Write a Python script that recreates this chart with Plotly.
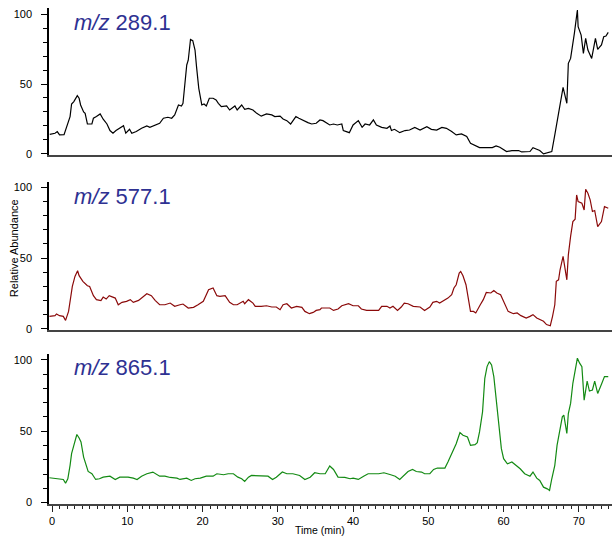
import plotly.graph_objects as go

# ---- data (time in min, relative abundance) ----
t1 = [-0.3, 0.4, 0.7, 1.0, 1.6, 1.95, 2.4, 2.6, 2.9, 3.36, 3.6, 3.8, 4.2, 4.4, 4.7, 5.3, 5.5, 5.9, 6.4, 6.8,
      7.3, 7.7, 8.1, 8.5, 9.0, 9.5, 9.8, 10.3, 10.6, 11.2, 11.9, 12.6, 13.0, 13.8, 14.3, 14.8, 15.4, 15.9, 16.3, 16.8,
      17.2, 17.4, 17.9, 18.1, 18.4, 18.7, 19.0, 19.2, 19.5, 19.9, 20.2, 20.5, 20.9, 21.4, 21.8, 22.1, 22.5, 23.2, 23.6, 24.3,
      24.6, 25.2, 25.6, 26.1, 26.7, 27.2, 27.8, 28.5, 29.2, 29.6, 30.3, 30.7, 31.2, 31.7, 32.0, 32.4, 32.8, 33.4, 34.0, 34.5,
      35.1, 35.6, 36.0, 36.9, 37.4, 37.9, 38.5, 38.7, 39.5, 40.0, 40.7, 41.2, 41.6, 42.2, 42.7, 43.1, 43.8, 44.5, 44.9, 45.1,
      45.5, 46.2, 46.9, 47.5, 48.2, 48.9, 49.8, 50.4, 51.1, 51.8, 52.4, 53.1, 53.7, 54.4, 55.1, 55.6, 56.2, 56.8, 57.7, 58.5,
      59.0, 59.5, 60.4, 61.1, 62.0, 62.4, 63.5, 63.9, 64.4, 64.8, 65.3, 65.9, 66.4, 66.8, 67.0, 67.4, 67.9, 68.4, 68.6, 68.9,
      69.2, 69.4, 69.8, 69.9, 70.3, 70.6, 70.9, 71.2, 71.7, 72.2, 72.5, 73.0, 73.3, 73.6, 73.9]
v1 = [14, 14.8, 16, 13.6, 13.8, 19.5, 26.7, 35.7, 37.4, 41.7, 39.8, 35, 30, 29, 21.4, 21.4, 25.5, 26.7, 28.6, 24.8,
      21.4, 16.7, 14.8, 16.7, 18.3, 20.2, 14.8, 17.6, 14.8, 16, 18.3, 20, 19, 20.7, 21.9, 25.5, 26.2, 25.5, 27.9, 35,
      34.3, 36.2, 63.6, 67, 81.9, 81, 74.3, 62.4, 46.9, 35, 35.7, 34.3, 39.8, 39.8, 38.6, 36.2, 33.8, 34.3, 31.4, 34.3,
      31.4, 35, 31.9, 32.6, 31.4, 29, 27, 28.6, 27.9, 26.7, 27, 25, 23.8, 21.4, 23.8, 26.7, 25.5, 23.8, 22.4, 21.4,
      21.9, 24.3, 23.8, 20.7, 21.4, 20.7, 21.4, 16.7, 15.2, 20.7, 23.8, 19, 21.4, 20.7, 24.3, 20.7, 19, 18.3, 20, 16.7,
      17.6, 15.2, 16.7, 17.1, 19, 17.1, 19.5, 17.6, 17.1, 19, 18.3, 16, 13.6, 14.3, 12.4, 7.6, 6, 4.5, 4.5, 4.5,
      5.7, 4.8, 1.7, 2.4, 2.4, 1.4, 1.7, 4.5, 3.3, 2.4, 0, 1, 1.7, 13.6, 19.5, 31.4, 47.6, 36.2, 64.8, 68.3,
      81.4, 86.2, 102.9, 91, 85, 71.9, 82.6, 74.3, 68.3, 82.6, 74.8, 77.9, 83.8, 84.3, 86.9]

t2 = [-0.35, 0.4, 0.6, 1.0, 1.5, 1.8, 2.2, 2.5, 2.7, 3.05, 3.4, 3.6, 4.1, 4.7, 5.0, 5.5, 5.9, 6.5, 6.8, 7.2,
      7.6, 8.4, 8.8, 9.3, 9.9, 10.4, 10.8, 11.5, 12.1, 12.6, 13.2, 13.7, 14.3, 15.0, 15.7, 16.3, 17.0, 17.4, 18.1, 18.8,
      19.4, 20.1, 20.5, 20.8, 21.4, 21.9, 22.3, 23.0, 23.6, 24.1, 24.6, 25.0, 25.4, 25.6, 26.1, 26.7, 27.0, 27.8, 28.5, 29.2,
      29.8, 30.3, 30.7, 31.2, 31.8, 32.5, 33.2, 33.6, 34.2, 34.7, 35.1, 35.6, 35.8, 36.9, 37.4, 38.0, 38.5, 39.4, 40.0, 40.7,
      41.1, 41.8, 42.7, 43.4, 43.8, 44.5, 44.9, 45.3, 45.9, 46.4, 46.8, 47.3, 48.0, 48.9, 49.5, 50.2, 50.6, 51.1, 51.5, 52.1,
      52.6, 53.1, 53.4, 53.7, 54.1, 54.3, 54.6, 55.0, 55.3, 55.6, 56.0, 56.3, 56.9, 57.3, 57.7, 58.3, 58.7, 59.1, 59.6, 60.0,
      60.6, 61.3, 61.8, 62.3, 63.0, 63.5, 63.9, 64.4, 65.3, 65.7, 66.2, 66.5, 66.8, 67.0, 67.3, 67.5, 67.9, 68.4, 68.6, 68.9,
      69.2, 69.5, 69.7, 69.9, 70.4, 70.7, 70.9, 71.2, 71.5, 71.8, 72.1, 72.5, 73.0, 73.4, 73.9]
v2 = [8.9, 9.4, 10.6, 9.4, 8.9, 6.1, 12.4, 25.4, 30, 37.1, 41.1, 37.6, 33.6, 30.5, 30, 23.5, 20.7, 20, 22.5, 21.1,
      23.5, 21.8, 17.1, 18.8, 19.5, 20.7, 18.8, 20.2, 23, 24.9, 23.5, 20.2, 17.1, 17.1, 18.3, 16, 17.1, 17.6, 14.8, 15.3,
      17.1, 19.5, 24.2, 27.7, 28.9, 23.5, 23, 23.5, 18.8, 17.1, 17.1, 18.3, 19.5, 17.8, 20.7, 18.3, 16, 16, 16.4, 15.5,
      15.5, 13.6, 17.1, 17.8, 14.8, 16, 15.3, 12.4, 10.8, 11.7, 13.1, 13.6, 14.8, 14.8, 13.1, 14.1, 16.4, 17.8, 16.4, 16.4,
      14.1, 13.1, 13.1, 13.1, 16, 16, 14.8, 16, 13.1, 15.5, 18.3, 17.8, 16, 15.5, 13.1, 15.5, 18.8, 19.5, 18.3, 20.2,
      21.8, 24.2, 28.9, 31.2, 39.4, 40.6, 37.6, 31.2, 21.8, 12.4, 12.4, 11.3, 17.1, 20.7, 25.8, 25.4, 27.2, 25.4, 24.2, 19.5,
      12.4, 10.8, 11.3, 9.4, 7.7, 8.9, 10.1, 7.7, 5.4, 3.1, 2.3, 8.9, 17.1, 33.6, 34.7, 41.8, 51.2, 34.7, 52.3, 65.3,
      75.8, 77.5, 94.6, 89.9, 88.7, 84, 98.6, 95.8, 91.1, 82.9, 83.6, 72.3, 75.8, 86.4, 85.2]

t3 = [-0.35, 0.8, 1.5, 1.8, 2.1, 2.4, 2.6, 2.9, 3.3, 3.6, 3.85, 4.2, 4.5, 4.8, 5.3, 5.8, 6.3, 6.8, 7.7, 8.4,
      9.0, 10.1, 10.8, 11.3, 11.9, 12.6, 13.4, 13.8, 14.3, 15.0, 15.7, 16.6, 17.0, 17.9, 18.5, 19.0, 19.7, 20.5, 21.4, 21.9,
      22.8, 23.4, 24.1, 24.7, 25.2, 25.6, 26.1, 26.5, 27.4, 28.1, 28.7, 29.3, 29.8, 30.6, 31.2, 32.0, 32.9, 33.6, 34.3, 34.9,
      35.6, 36.3, 36.9, 37.4, 38.0, 38.9, 39.6, 40.0, 40.7, 41.4, 42.0, 43.4, 44.1, 45.0, 45.6, 46.2, 46.7, 47.3, 47.9, 48.4,
      49.1, 49.5, 50.2, 50.7, 51.2, 51.5, 52.2, 52.6, 53.3, 53.7, 54.2, 54.6, 55.2, 55.6, 56.2, 56.5, 56.8, 57.2, 57.5, 57.8,
      58.1, 58.4, 58.7, 59.05, 59.4, 59.7, 60.0, 60.5, 61.1, 61.6, 62.2, 62.8, 63.5, 63.9, 64.4, 64.8, 65.3, 65.8, 66.1, 66.4,
      66.8, 67.1, 67.5, 67.8, 68.0, 68.4, 68.6, 68.9, 69.2, 69.5, 69.8, 70.1, 70.4, 70.7, 71.0, 71.1, 71.4, 71.8, 72.1, 72.5,
      73.0, 73.4, 73.9]
v3 = [17.4, 16.7, 16.2, 13.6, 16.7, 26.1, 34.3, 40.1, 47.7, 45.3, 42.5, 31.9, 27.2, 21.8, 20.2, 16.2, 16.7, 17.8, 18.5, 16.2,
      17.8, 17.8, 17.1, 16.2, 18.5, 20.2, 21.4, 20.2, 18.5, 18.5, 17.6, 17.1, 16.2, 17.1, 15.5, 16.7, 17.1, 18.5, 18.5, 20.2,
      19.5, 20.2, 20.2, 17.8, 16.7, 14.8, 17.8, 19, 19, 18.5, 18.5, 16.2, 17.8, 21.4, 20.2, 20.2, 19, 16.2, 17.8, 20.9,
      20.2, 20.2, 25.6, 23.2, 17.8, 17.6, 16.7, 17.1, 16.2, 18.5, 20.2, 20.2, 20.9, 19.5, 18.5, 16.2, 19, 21.8, 23.2, 21.8,
      21.4, 20.2, 20.2, 23.2, 24.2, 24.2, 24.2, 28.4, 36.6, 41.3, 49.1, 47.2, 46, 40.1, 40.6, 42, 49.5, 63.6, 87.1, 95.3,
      98.8, 96.5, 88.3, 70.7, 49.5, 37.8, 30.8, 27.2, 28.4, 26.5, 23.7, 20.2, 18.5, 21.4, 17.1, 15.5, 10.8, 9.6, 8.5, 16.7,
      26.1, 40.1, 51.9, 60.1, 61.3, 48.4, 62.4, 69.5, 83.6, 91.8, 101.2, 97.7, 95.3, 71.8, 80, 85.2, 78.2, 78.9, 85.2, 76.5,
      82.9, 88.3, 88.3]

labels = ["289.1", "577.1", "865.1"]
colors = ["#000000", "#8b0a0a", "#138a13"]
x_ticks = [0, 10, 20, 30, 40, 50, 60, 70]
y_ticks = [0, 50, 100]

series = [(t1, v1), (t2, v2), (t3, v3)]
domains = [[0.703, 0.999], [0.350, 0.650], [0.0, 0.302]]
label_y = [0.970, 0.6196, 0.2748]

FONT = "Liberation Sans, Arial, sans-serif"
fig = go.Figure()
for i, (t, v) in enumerate(series):
    n = "" if i == 0 else str(i + 1)
    fig.add_trace(go.Scatter(x=t, y=v, mode="lines", xaxis="x" + n, yaxis="y" + n,
                             line=dict(color=colors[i], width=1.2), showlegend=False, hoverinfo="skip"))
    bottom = (i == 2)
    fig.layout["xaxis" + n] = dict(
        domain=[0, 1], anchor="y" + n, range=[-0.4, 74.4],
        showline=True, linecolor="#444444", linewidth=2,
        showgrid=False, zeroline=False,
        ticks="outside" if bottom else "", ticklen=6, tickwidth=1, tickcolor="#222",
        tickvals=x_ticks if bottom else [], showticklabels=bottom,
        minor=dict(ticks="outside", dtick=1, ticklen=3, tickcolor="#222", tickwidth=1) if bottom else dict(ticks=""),
        tickfont=dict(family=FONT, size=11, color="#000"),
    )
    fig.layout["yaxis" + n] = dict(
        domain=domains[i], anchor="x" + n, range=[-1, 104],
        showline=True, linecolor="#000", linewidth=1.5,
        showgrid=False, zeroline=False,
        ticks="outside", ticklen=6, tickwidth=1, tickcolor="#000",
        tickvals=y_ticks, ticktext=[str(y) for y in y_ticks],
        minor=dict(ticks="outside", tickvals=[10, 20, 30, 40, 60, 70, 80, 90], ticklen=4, tickcolor="#000", tickwidth=1),
        tickfont=dict(family=FONT, size=11, color="#000"),
        ticklabelstandoff=7,
    )
    fig.add_annotation(text="<i>m/z</i> " + labels[i], xref="paper", yref="paper",
                       x=0.041, y=label_y[i], xanchor="left", yanchor="middle", showarrow=False,
                       font=dict(family=FONT, size=22, color="#2e3192"))

fig.add_annotation(text="Relative Abundance", xref="paper", yref="paper", x=-0.062, y=0.516,
                   textangle=-90, showarrow=False, xanchor="center", yanchor="middle",
                   font=dict(family=FONT, size=11, color="#000"))
fig.add_annotation(text="Time (min)", xref="paper", yref="paper", x=0.481, y=-0.0534,
                   showarrow=False, xanchor="center", yanchor="middle",
                   font=dict(family=FONT, size=10.5, color="#000"))

fig.update_layout(width=614, height=537, margin=dict(l=49, r=2, t=8, b=33),
                  paper_bgcolor="white", plot_bgcolor="white")
fig.write_html("out.html", config={"displayModeBar": False},
               post_script="document.body.style.margin='0';document.body.style.overflow='hidden';")
